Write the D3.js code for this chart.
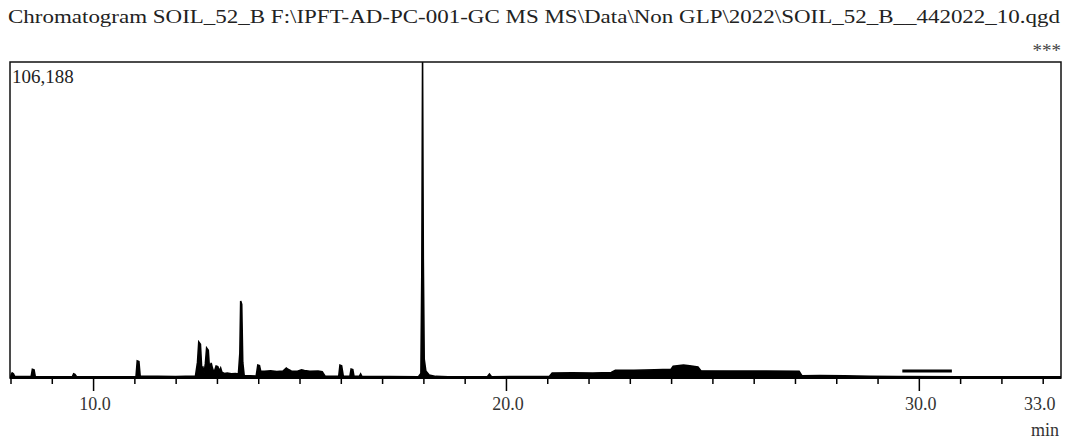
<!DOCTYPE html>
<html>
<head>
<meta charset="utf-8">
<script src="https://cdn.jsdelivr.net/npm/d3@7"></script>
<style>
body { margin: 0; background: #fff; }
</style>
</head>
<body>
<div id="chart"></div>
<script>
// Chart data
var titleText = "Chromatogram SOIL_52_B F:\\IPFT-AD-PC-001-GC MS MS\\Data\\Non GLP\\2022\\SOIL_52_B__442022_10.qgd";
var maxLabel = "106,188";
var yMax = 106188;

// retention time (min) and intensity (counts)
var times = [8.00, 8.04, 8.07, 8.10, 8.50, 8.53, 8.57, 8.60, 9.00, 9.50, 9.53, 9.56, 9.60,
  10.5, 11.04, 11.07, 11.11, 11.14, 12.0, 12.48, 12.53, 12.56, 12.60, 12.63, 12.66, 12.69,
  12.72, 12.75, 12.79, 12.82, 12.86, 12.89, 12.93, 12.98, 13.02, 13.06, 13.09, 13.12, 13.18,
  13.25, 13.35, 13.45, 13.52, 13.555, 13.575, 13.60, 13.625, 13.66, 13.95, 13.99, 14.03, 14.06,
  14.15, 14.3, 14.45, 14.6, 14.68, 14.72, 14.8, 14.95, 15.05, 15.12, 15.25, 15.45, 15.55, 15.62,
  15.95, 15.98, 16.02, 16.06, 16.22, 16.25, 16.29, 16.32, 16.45, 16.48, 16.51,
  17.88, 17.94, 17.962, 17.98, 17.998, 18.02, 18.06, 18.14, 18.3, 18.6,
  19.55, 19.6, 19.65, 21.05, 21.12, 21.6, 22.1, 22.55, 22.65, 23.1, 23.6, 24.0, 24.05, 24.3,
  24.45, 24.65, 24.72, 25.5, 26.3, 27.1, 27.17, 27.6, 28.2, 28.8, 29.5, 31.0, 33.44];
var counts = [300, 1400, 1100, 200, 150, 2600, 2400, 150, 100, 150, 1100, 900, 100,
  80, 100, 5400, 5200, 300, 150, 300, 5000, 11800, 11000, 3000, 3300, 1500,
  4500, 9800, 9000, 2500, 4700, 3000, 1500, 3700, 3500, 2000, 3000, 1600, 1200,
  1300, 1100, 1200, 1000, 8000, 25600, 24500, 5000, 500, 300, 4000, 3800, 2000,
  1900, 2100, 1800, 2000, 3000, 2600, 2000, 1900, 2400, 2200, 1900, 2000, 1800, 300,
  200, 4000, 3800, 300, 200, 2700, 2500, 200, 200, 1000, 200,
  100, 1200, 35000, 106188, 40000, 6000, 2000, 700, 200, 100,
  100, 1000, 100, 150, 1300, 1400, 1350, 1500, 2300, 2300, 2400, 2600, 3600, 4000,
  3800, 3400, 2100, 2000, 2000, 1900, 400, 500, 400, 200, 150, 100, 100];

// separate bar drawn near 30 min
var barStart = 29.6;
var barEnd = 30.8;
var barLevel = 2000;

var minorTicks = d3.range(8, 34);
var majorTicks = [10, 20, 30];
var labelTicks = [10, 20, 30, 33];

var serif = "'Liberation Serif', 'DejaVu Serif', serif";
var svgWidth = 1066;
var svgHeight = 439;
var plot = { left: 10, right: 1061, top: 62, bottom: 378 };

var svg = d3.select("#chart")
  .append("svg")
  .attr("width", svgWidth)
  .attr("height", svgHeight)
  .attr("font-family", serif);

var x = d3.scaleLinear()
  .domain([8, 33])
  .range([10.5, 1042.7]);

var y = d3.scaleLinear()
  .domain([0, yMax])
  .range([377, 62]);

// title
svg.append("text")
  .attr("x", 8)
  .attr("y", 23)
  .attr("textLength", 1052)
  .attr("lengthAdjust", "spacingAndGlyphs")
  .attr("font-family", serif)
  .attr("font-size", 19)
  .attr("fill", "#222")
  .text(titleText);

svg.append("text")
  .attr("x", 1061)
  .attr("y", 57)
  .attr("text-anchor", "end")
  .attr("font-family", serif)
  .attr("font-size", 19)
  .attr("fill", "#444")
  .text("***");

svg.append("clipPath")
  .attr("id", "clip")
  .append("rect")
  .attr("x", plot.left)
  .attr("y", plot.top)
  .attr("width", plot.right - plot.left)
  .attr("height", plot.bottom - plot.top + 2);

var points = times.map(function(t, i) { return [t, counts[i]]; });

var area = d3.area()
  .x(d => x(d[0]))
  .y0(y(0))
  .y1(d => y(d[1]));

var line = d3.line()
  .x(d => x(d[0]))
  .y(d => y(d[1]));

var traceGroup = svg.append("g").attr("clip-path", "url(#clip)");

traceGroup.append("path")
  .datum(points)
  .attr("d", area)
  .attr("fill", "#000");

traceGroup.append("path")
  .datum(points)
  .attr("d", line)
  .attr("fill", "none")
  .attr("stroke", "#000")
  .attr("stroke-width", 1.6);

traceGroup.append("line")
  .attr("x1", x(barStart))
  .attr("x2", x(barEnd))
  .attr("y1", y(barLevel))
  .attr("y2", y(barLevel))
  .attr("stroke", "#000")
  .attr("stroke-width", 3);

// frame
svg.append("rect")
  .attr("x", plot.left)
  .attr("y", plot.top)
  .attr("width", plot.right - plot.left)
  .attr("height", plot.bottom - plot.top)
  .attr("fill", "none")
  .attr("stroke", "#111")
  .attr("stroke-width", 1.5);

svg.append("line")
  .attr("x1", plot.left)
  .attr("x2", plot.right)
  .attr("y1", 377.5)
  .attr("y2", 377.5)
  .attr("stroke", "#000")
  .attr("stroke-width", 3);

// axis ticks
var axisGroup = svg.append("g")
  .attr("transform", "translate(0, 378)");

axisGroup.call(d3.axisBottom(x)
  .tickValues(minorTicks)
  .tickSize(6)
  .tickFormat(""));
axisGroup.select(".domain").remove();
axisGroup.selectAll(".tick line")
  .attr("stroke", "#000")
  .attr("stroke-width", 1.5)
  .attr("y2", d => majorTicks.indexOf(d) >= 0 ? 13 : 6);

svg.selectAll("text.tickLabel")
  .data(labelTicks)
  .enter()
  .append("text")
  .attr("class", "tickLabel")
  .attr("x", d => x(d) + (d === 33 ? -3 : 2))
  .attr("y", 410)
  .attr("text-anchor", "middle")
  .attr("font-family", serif)
  .attr("font-size", 18)
  .attr("fill", "#333")
  .text(d => d.toFixed(1));

svg.append("text")
  .attr("x", 1059)
  .attr("y", 436)
  .attr("text-anchor", "end")
  .attr("font-family", serif)
  .attr("font-size", 18)
  .attr("fill", "#333")
  .text("min");

svg.append("text")
  .attr("x", 12)
  .attr("y", 83)
  .attr("font-family", serif)
  .attr("font-size", 19)
  .attr("fill", "#222")
  .text(maxLabel);
</script>
</body>
</html>
